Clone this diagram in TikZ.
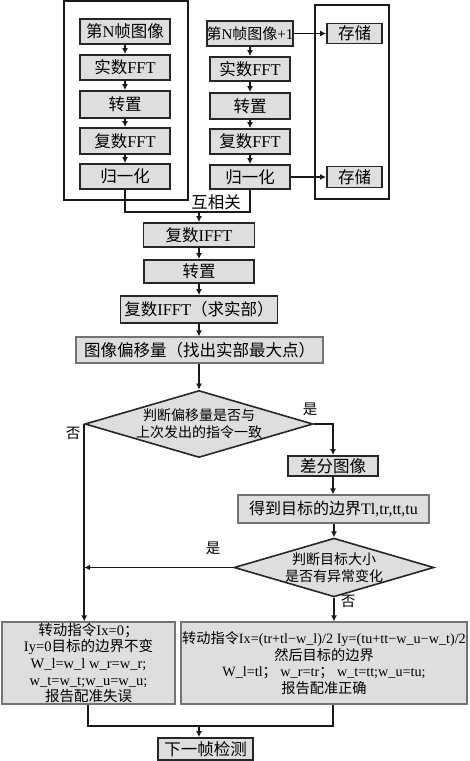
\documentclass[tikz,border=0pt]{standalone}
\usepackage{fontspec}
\setmainfont{Liberation Serif}
\newfontfamily\cjk{Noto Sans CJK SC}
\usetikzlibrary{shapes.geometric,arrows.meta}
\newcommand\zh[1]{{\cjk #1}}
\begin{document}
\begin{tikzpicture}[x=1pt,y=-1pt,
  box/.style={draw=black!85,line width=1.8pt,fill=black!13,inner sep=0pt,font=\fontsize{16.5}{19}\selectfont},
  gbox/.style={draw=black!55,line width=1.2pt,fill=black!13,inner sep=0pt},
  frame/.style={draw=black!90,line width=1.6pt,inner sep=0pt},
  dia/.style={diamond,draw=black!85,line width=1.6pt,fill=black!13,inner sep=0pt,aspect=3.4,align=center,font=\fontsize{14}{17}\selectfont\cjk},
  con/.style={line width=1.5pt,draw=black!90},
  arr/.style={con,-{Latex[length=6pt,width=6pt]}},
  lab/.style={font=\fontsize{14.5}{16}\selectfont\cjk,inner sep=0pt}]
\useasboundingbox (0,0) rectangle (469,761);
% frames
\node[frame,minimum width=124pt,minimum height=199pt] (FL) at (126,100.5) {};
\node[frame,minimum width=74pt,minimum height=194pt] (FR) at (352,102) {};
% left column
\node[box,minimum width=90pt,minimum height=25pt] (L1) at (125,31.5) {\zh{第}N\zh{帧图像}};
\node[box,minimum width=90pt,minimum height=25pt] (L2) at (125,67.5) {\zh{实数}FFT};
\node[box,minimum width=90pt,minimum height=27pt] (L3) at (125,104.5) {\zh{转置}};
\node[box,minimum width=90pt,minimum height=26pt] (L4) at (125,141) {\zh{复数}FFT};
\node[box,minimum width=90pt,minimum height=25pt] (L5) at (125,176.5) {\zh{归一化}};
% right column
\node[box,minimum width=80pt,minimum height=25pt,font=\fontsize{15}{18}\selectfont] (R1) at (250,33.5) {\zh{第}N\zh{帧图像}+1};
\node[box,minimum width=80pt,minimum height=24pt] (R2) at (250,69) {\zh{实数}FFT};
\node[box,minimum width=80pt,minimum height=26pt] (R3) at (250,106) {\zh{转置}};
\node[box,minimum width=80pt,minimum height=25pt] (R4) at (250,141.5) {\zh{复数}FFT};
\node[box,minimum width=80pt,minimum height=24pt] (R5) at (250,177) {\zh{归一化}};
% storage
\node[box,minimum width=55pt,minimum height=20pt] (S1) at (354.5,33.5) {\zh{存储}};
\node[box,minimum width=55pt,minimum height=21pt] (S2) at (354.5,177) {\zh{存储}};
\foreach \a/\b in {L1/L2,L2/L3,L3/L4,L4/L5,R1/R2,R2/R3,R3/R4,R4/R5}
  \draw[arr] (\a) -- (\b);
\draw[arr] (R1.east) -- (S1.west);
\draw[arr] (R5.east) -- (S2.west);
% cross-correlation merge
\coordinate (m1) at (125,212);
\coordinate (m2) at (250,212);
\coordinate (m0) at (199,212);
\draw[con] (L5.south) -- (m1) -- (m2) -- (R5.south);
\node[font=\fontsize{16.5}{18}\selectfont\cjk,inner sep=0pt] (hx) at (216,202) {互相关};
% middle column
\node[box,minimum width=111pt,minimum height=24pt] (I1) at (199,235) {\zh{复数}IFFT};
\node[box,minimum width=110pt,minimum height=23pt] (I2) at (199,271.5) {\zh{转置}};
\node[box,minimum width=157pt,minimum height=27pt] (I3) at (199,309.5) {\zh{复数}IFFT\zh{（求实部）}};
\node[gbox,minimum width=247pt,minimum height=26pt,font=\fontsize{16.5}{19}\selectfont\cjk] (I4) at (199.5,350) {图像偏移量（找出实部最大点）};
\draw[arr] (m0) -- (m0 |- I1.north);
\draw[arr] (I1) -- (I2);
\draw[arr] (I2) -- (I3);
\draw[arr] (I3) -- (I3 |- I4.north);
% decision 1
\node[dia,minimum width=220pt,minimum height=65pt] (D1) at (199,424) {判断偏移量是否与\\上次发出的指令一致};
\draw[arr] (I4.south -| D1.north) -- (D1.north);
\coordinate (d1r) at (333,424);
\node[lab] (y1) at (310,409) {是};
\node[lab] (n1) at (73,433) {否};
\node[box,minimum width=90pt,minimum height=20pt] (C1) at (333,466) {\zh{差分图像}};
\node[gbox,minimum width=191pt,minimum height=28pt,font=\fontsize{16}{18}\selectfont] (C2) at (333.5,509) {\zh{得到目标的边界}Tl,tr,tt,tu};
\draw[arr] (D1.east) -- (d1r) -- (C1.north);
\draw[arr] (C1.south) -- (C1.south |- C2.north);
% decision 2
\node[dia,minimum width=198pt,minimum height=51pt] (D2) at (334,567.5) {判断目标大小\\是否有异常变化};
\draw[arr] (C2.south -| D2.north) -- (D2.north);
\node[lab] (y2) at (213,548) {是};
\node[lab] (n2) at (348,601) {否};
% bottom boxes
\node[gbox,minimum width=173pt,minimum height=82pt,align=center,font=\fontsize{14.5}{16.7}\selectfont] (B1) at (88.5,663)
 {\zh{转动指令}Ix=0\zh{；}\\Iy=0\zh{目标的边界不变}\\W\_l=w\_l w\_r=w\_r;\\w\_t=w\_t;w\_u=w\_u;\\\zh{报告配准失误}};
\node[gbox,minimum width=286pt,minimum height=82pt,align=center,font=\fontsize{14.2}{16.7}\selectfont] (B2) at (324,663)
 {\zh{转动指令}Ix=(tr+tl−w\_l)/2 Iy=(tu+tt−w\_u−w\_t)/2\\\zh{然后目标的边界}\\W\_l=tl\zh{；} w\_r=tr\zh{；} w\_t=tt;w\_u=tu;\\\zh{报告配准正确}};
\draw[arr] (D1.west) -- (D1.west |- B1.north);
\draw[arr] (D2.west) -- (D1.west |- D2.west);
\draw[arr] (D2.south) -- (D2.south |- B2.north);
% final merge
\coordinate (mb1) at (88,726);
\coordinate (mb2) at (333,726);
\coordinate (mb0) at (199,726);
\node[box,minimum width=95pt,minimum height=22pt] (N) at (205.5,749) {\zh{下一帧检测}};
\draw[con] (mb1 |- B1.south) -- (mb1) -- (mb2) -- (mb2 |- B2.south);
\draw[arr] (mb0) -- (mb0 |- N.north);
\end{tikzpicture}
\end{document}
